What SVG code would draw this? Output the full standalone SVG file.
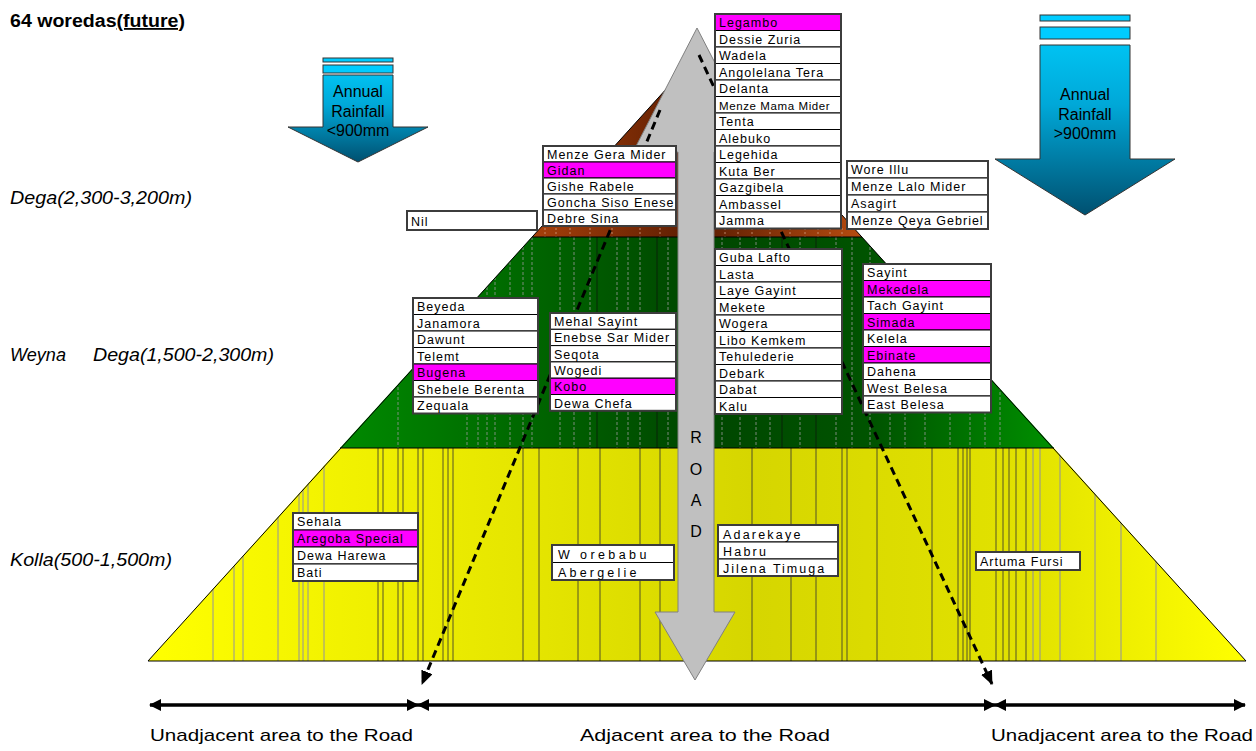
<svg xmlns="http://www.w3.org/2000/svg" width="1256" height="751" viewBox="0 0 1256 751">
  <defs>
    <style>
      .row{fill:#fff;stroke:#000;stroke-width:1}
      .hl{fill:#ff00ff;stroke:#000;stroke-width:1}
      .frame{fill:none;stroke:#3c3c3c;stroke-width:2}
      .t{font-family:"Liberation Sans",Arial,sans-serif;font-size:12.5px;letter-spacing:1px;fill:#000}
      .lvl{font-family:"Liberation Sans",Arial,sans-serif;font-size:18px;font-style:italic;fill:#000}
      .area{font-family:"Liberation Sans",Arial,sans-serif;font-size:17px;fill:#000}
      .rain{font-family:"Liberation Sans",Arial,sans-serif;font-size:16px;fill:#000;text-anchor:middle}
      .road{font-family:"Liberation Sans",Arial,sans-serif;font-size:16px;fill:#000;text-anchor:middle}
      .ly{stroke:#303030;stroke-width:0.8}
      .lp{stroke:#7a78c8;stroke-width:0.8}
      .lg{stroke:#9a9a9a;stroke-width:0.8;stroke-dasharray:3 2}
      .ld{stroke:#0a1a0a;stroke-width:0.8}
      .lb{stroke:#d0a080;stroke-width:0.8;stroke-dasharray:2 2}
      .dash{fill:none;stroke:#000;stroke-width:3;stroke-dasharray:8 5}
      .span{fill:none;stroke:#000;stroke-width:3}
    </style>
    <linearGradient id="gYellow" x1="148" y1="0" x2="1246" y2="0" gradientUnits="userSpaceOnUse">
      <stop offset="0" stop-color="#ffff00"/>
      <stop offset="0.55" stop-color="#d6d600"/>
      <stop offset="0.8" stop-color="#e2e200"/>
      <stop offset="1" stop-color="#ffff00"/>
    </linearGradient>
    <linearGradient id="gGreen" x1="340" y1="0" x2="1054" y2="0" gradientUnits="userSpaceOnUse">
      <stop offset="0" stop-color="#008a00"/>
      <stop offset="0.5" stop-color="#004600"/>
      <stop offset="0.75" stop-color="#005400"/>
      <stop offset="1" stop-color="#009000"/>
    </linearGradient>
    <linearGradient id="gBrown" x1="530" y1="0" x2="864" y2="0" gradientUnits="userSpaceOnUse">
      <stop offset="0" stop-color="#a8400a"/>
      <stop offset="0.5" stop-color="#5a1c02"/>
      <stop offset="1" stop-color="#b84c10"/>
    </linearGradient>
    <linearGradient id="gRainL" x1="0" y1="58" x2="0" y2="162" gradientUnits="userSpaceOnUse">
      <stop offset="0" stop-color="#00d0ff"/>
      <stop offset="0.45" stop-color="#00a8d8"/>
      <stop offset="1" stop-color="#005070"/>
    </linearGradient>
    <linearGradient id="gRainR" x1="0" y1="14" x2="0" y2="215" gradientUnits="userSpaceOnUse">
      <stop offset="0" stop-color="#00d0ff"/>
      <stop offset="0.45" stop-color="#00a8d8"/>
      <stop offset="1" stop-color="#005070"/>
    </linearGradient>
    <clipPath id="cYellow"><polygon points="340,448 1054,448 1246,661 148,661"/></clipPath>
    <clipPath id="cGreen"><polygon points="532,237 862,237 1054,448 340,448"/></clipPath>
    <marker id="head" viewBox="0 0 12 12" refX="11" refY="6" markerWidth="12" markerHeight="12" markerUnits="userSpaceOnUse" orient="auto">
      <path d="M0,0 L12,6 L0,12 Z" fill="#000"/>
    </marker>
    <marker id="headD" viewBox="0 0 14 12" refX="13" refY="6" markerWidth="14" markerHeight="12" markerUnits="userSpaceOnUse" orient="auto">
      <path d="M0,0 L14,6 L0,12 Z" fill="#000"/>
    </marker>
  </defs>

  <rect width="1256" height="751" fill="#fff"/>

  <!-- title -->
  <text x="10" y="27" font-family="Liberation Sans, Arial, sans-serif" font-size="18" font-weight="bold" textLength="175" lengthAdjust="spacingAndGlyphs">64 woredas<tspan text-decoration="underline">(future)</tspan></text>

  <!-- altitude zones -->
  <text class="lvl" x="10" y="204" textLength="182" lengthAdjust="spacingAndGlyphs">Dega(2,300-3,200m)</text>
  <text class="lvl" x="10" y="361" textLength="56" lengthAdjust="spacingAndGlyphs">Weyna</text>
  <text class="lvl" x="93" y="361" textLength="181" lengthAdjust="spacingAndGlyphs">Dega(1,500-2,300m)</text>
  <text class="lvl" x="10" y="566" textLength="162" lengthAdjust="spacingAndGlyphs">Kolla(500-1,500m)</text>

  <!-- pyramid of altitude bands -->
  <g id="pyramid">
    <polygon points="697,55 862,237 532,237" fill="url(#gBrown)"/>
    <polygon points="532,237 862,237 1054,448 340,448" fill="url(#gGreen)"/>
    <polygon points="340,448 1054,448 1246,661 148,661" fill="url(#gYellow)"/>
    <g clip-path="url(#cYellow)">
      <path class="lp" d="M213,448V661M234,448V661M243,448V661M278,448V661M299,448V661M303,448V661M308,448V661M324,448V661"/>
      <path class="ly" d="M378,448V661M383,448V661M398,448V661M403,448V661M418,448V661M423,448V661M443,448V661M448,448V661M453,448V661M523,448V661M539,448V661M578,448V661M600,448V661M640,448V661M660,448V661"/>
      <path class="ly" d="M752,448V661M791,448V661M816,448V661M842,448V661M847,448V661M877,448V661M932,448V661M958,448V661M963,448V661M967,448V661M970,448V661M996,448V661M1003,448V661M1009,448V661M1016,448V661M1026,448V661"/>
      <path class="lp" d="M1033,448V661M1040,448V661M1060,448V661M1095,448V661M1121,448V661M1156,448V661"/>
    </g>
    <g clip-path="url(#cGreen)">
      <path class="lg" d="M398,237V448M467,237V448M478,237V448M487,237V448M495,237V448M510,237V448M523,237V448M532,237V448M560,237V448M574,237V448M590,237V448M617,237V448M628,237V448M640,237V448M668,237V448"/>
      <path class="lg" d="M722,237V448M740,237V448M756,237V448M770,237V448M800,237V448M836,237V448M852,237V448M870,237V448M890,237V448M905,237V448M925,237V448M950,237V448M970,237V448M985,237V448M1000,237V448"/>
      <path class="ld" d="M597,237V448M657,237V448M782,237V448M816,237V448"/>
    </g>
    <path class="lb" d="M545,228V237M556,228V237M570,228V237M590,228V237M612,228V237M640,228V237M660,228V237M725,228V237M738,228V237M752,228V237M770,228V237M790,228V237M805,228V237M818,228V237M830,228V237M842,228V237"/>
    <path d="M532,237H862M340,448H1054" stroke="#000" stroke-width="1"/>
    <polygon points="697,55 1246,661 148,661" fill="none" stroke="#000" stroke-width="1"/>
  </g>

  <!-- road -->
  <g id="road">
    <polygon points="697,28 761,152 714,152 714,612 735,612 695,680 655,612 678,612 678,152 633,152" fill="#c0c0c0" stroke="#808080" stroke-width="1"/>
    <text class="road" x="696" y="443">R</text>
    <text class="road" x="696" y="475">O</text>
    <text class="road" x="696" y="506">A</text>
    <text class="road" x="696" y="537">D</text>
  </g>

  <!-- connectors -->
  <g id="connectors">
    <path class="dash" d="M660,110 L422,684" marker-end="url(#headD)"/>
    <path class="dash" d="M699,55 L992,684" marker-end="url(#headD)"/>
    <path class="span" d="M418,705 H150" marker-end="url(#head)"/>
    <path class="span" d="M150,705 H418" marker-end="url(#head)"/>
    <path class="span" d="M995,705 H418" marker-end="url(#head)"/>
    <path class="span" d="M418,705 H995" marker-end="url(#head)"/>
    <path class="span" d="M1245,705 H995" marker-end="url(#head)"/>
    <path class="span" d="M995,705 H1245" marker-end="url(#head)"/>
  </g>

  <!-- rainfall arrows -->
  <g id="rain-low">
    <rect x="323" y="58" width="70" height="4" fill="#00ccff" stroke="#333" stroke-width="1"/>
    <rect x="323" y="65" width="70" height="8" fill="#00ccff" stroke="#333" stroke-width="1"/>
    <polygon points="323,75 393,75 393,127 428,127 358,162 288,127 323,127" fill="url(#gRainL)" stroke="#333" stroke-width="1"/>
    <text class="rain" x="358" y="97">Annual</text>
    <text class="rain" x="358" y="117">Rainfall</text>
    <text class="rain" x="358" y="136">&lt;900mm</text>
  </g>
  <g id="rain-high">
    <rect x="1040" y="15" width="90" height="6" fill="#00ccff" stroke="#333" stroke-width="1"/>
    <rect x="1040" y="27" width="90" height="12" fill="#00ccff" stroke="#333" stroke-width="1"/>
    <polygon points="1040,45 1130,45 1130,159 1175,159 1085,215 995,159 1040,159" fill="url(#gRainR)" stroke="#333" stroke-width="1"/>
    <text class="rain" x="1085" y="100">Annual</text>
    <text class="rain" x="1085" y="120">Rainfall</text>
    <text class="rain" x="1085" y="139">&gt;900mm</text>
  </g>

  <!-- woreda lists -->
  <g id="list-nil" transform="translate(407,211)">
    <rect class="row" x="0" y="0" width="130" height="19"/>
    <rect class="frame" x="0" y="0" width="130" height="19"/>
    <text class="t" x="4" y="14.5">Nil</text>
  </g>

  <g id="list-menze-gera" transform="translate(543,146)">
    <rect class="row" x="0" y="0" width="133" height="16"/>
    <rect class="hl" x="0" y="16" width="133" height="16"/>
    <rect class="row" x="0" y="32" width="133" height="16"/>
    <rect class="row" x="0" y="48" width="133" height="16"/>
    <rect class="row" x="0" y="64" width="133" height="16"/>
    <rect class="frame" x="0" y="0" width="133" height="80"/>
    <text class="t" x="4" y="12.5">Menze Gera Mider</text>
    <text class="t" x="4" y="28.5">Gidan</text>
    <text class="t" x="4" y="44.5">Gishe Rabele</text>
    <text class="t" x="4" y="60.5">Goncha Siso Enese</text>
    <text class="t" x="4" y="76.5">Debre Sina</text>
  </g>

  <g id="list-legambo" transform="translate(715,14)">
    <rect class="hl" x="0" y="0" width="126" height="16.5"/>
    <rect class="row" x="0" y="16.5" width="126" height="16.5"/>
    <rect class="row" x="0" y="33" width="126" height="16.5"/>
    <rect class="row" x="0" y="49.5" width="126" height="16.5"/>
    <rect class="row" x="0" y="66" width="126" height="16.5"/>
    <rect class="row" x="0" y="82.5" width="126" height="16.5"/>
    <rect class="row" x="0" y="99" width="126" height="16.5"/>
    <rect class="row" x="0" y="115.5" width="126" height="16.5"/>
    <rect class="row" x="0" y="132" width="126" height="16.5"/>
    <rect class="row" x="0" y="148.5" width="126" height="16.5"/>
    <rect class="row" x="0" y="165" width="126" height="16.5"/>
    <rect class="row" x="0" y="181.5" width="126" height="16.5"/>
    <rect class="row" x="0" y="198" width="126" height="16.5"/>
    <rect class="frame" x="0" y="0" width="126" height="214.5"/>
    <text class="t" x="4" y="13">Legambo</text>
    <text class="t" x="4" y="29.5">Dessie Zuria</text>
    <text class="t" x="4" y="46">Wadela</text>
    <text class="t" x="4" y="62.5">Angolelana Tera</text>
    <text class="t" x="4" y="79">Delanta</text>
    <text class="t" x="4" y="95.5" style="font-size:11.5px;letter-spacing:0.6px">Menze Mama Mider</text>
    <text class="t" x="4" y="112">Tenta</text>
    <text class="t" x="4" y="128.5">Alebuko</text>
    <text class="t" x="4" y="145">Legehida</text>
    <text class="t" x="4" y="161.5">Kuta Ber</text>
    <text class="t" x="4" y="178">Gazgibela</text>
    <text class="t" x="4" y="194.5">Ambassel</text>
    <text class="t" x="4" y="211">Jamma</text>
  </g>

  <g id="list-wore-illu" transform="translate(847,161)">
    <rect class="row" x="0" y="0" width="141" height="17"/>
    <rect class="row" x="0" y="17" width="141" height="17"/>
    <rect class="row" x="0" y="34" width="141" height="17"/>
    <rect class="row" x="0" y="51" width="141" height="17"/>
    <rect class="frame" x="0" y="0" width="141" height="68"/>
    <text class="t" x="4" y="13">Wore Illu</text>
    <text class="t" x="4" y="30">Menze Lalo Mider</text>
    <text class="t" x="4" y="47">Asagirt</text>
    <text class="t" x="4" y="64">Menze Qeya Gebriel</text>
  </g>

  <g id="list-beyeda" transform="translate(413,298)">
    <rect class="row" x="0" y="0" width="125" height="16.5"/>
    <rect class="row" x="0" y="16.5" width="125" height="16.5"/>
    <rect class="row" x="0" y="33" width="125" height="16.5"/>
    <rect class="row" x="0" y="49.5" width="125" height="16.5"/>
    <rect class="hl" x="0" y="66" width="125" height="16.5"/>
    <rect class="row" x="0" y="82.5" width="125" height="16.5"/>
    <rect class="row" x="0" y="99" width="125" height="16.5"/>
    <rect class="frame" x="0" y="0" width="125" height="115.5"/>
    <text class="t" x="4" y="13">Beyeda</text>
    <text class="t" x="4" y="29.5">Janamora</text>
    <text class="t" x="4" y="46">Dawunt</text>
    <text class="t" x="4" y="62.5">Telemt</text>
    <text class="t" x="4" y="79">Bugena</text>
    <text class="t" x="4" y="95.5">Shebele Berenta</text>
    <text class="t" x="4" y="112">Zequala</text>
  </g>

  <g id="list-mehal-sayint" transform="translate(550,313)">
    <rect class="row" x="0" y="0" width="126" height="16.3"/>
    <rect class="row" x="0" y="16.3" width="126" height="16.3"/>
    <rect class="row" x="0" y="32.6" width="126" height="16.3"/>
    <rect class="row" x="0" y="48.9" width="126" height="16.3"/>
    <rect class="hl" x="0" y="65.2" width="126" height="16.3"/>
    <rect class="row" x="0" y="81.5" width="126" height="16.3"/>
    <rect class="frame" x="0" y="0" width="126" height="97.8"/>
    <text class="t" x="4" y="13">Mehal Sayint</text>
    <text class="t" x="4" y="29.3">Enebse Sar Mider</text>
    <text class="t" x="4" y="45.6">Seqota</text>
    <text class="t" x="4" y="61.9">Wogedi</text>
    <text class="t" x="4" y="78.2">Kobo</text>
    <text class="t" x="4" y="94.5">Dewa Chefa</text>
  </g>

  <g id="list-guba-lafto" transform="translate(715,249)">
    <rect class="row" x="0" y="0" width="127" height="16.5"/>
    <rect class="row" x="0" y="16.5" width="127" height="16.5"/>
    <rect class="row" x="0" y="33" width="127" height="16.5"/>
    <rect class="row" x="0" y="49.5" width="127" height="16.5"/>
    <rect class="row" x="0" y="66" width="127" height="16.5"/>
    <rect class="row" x="0" y="82.5" width="127" height="16.5"/>
    <rect class="row" x="0" y="99" width="127" height="16.5"/>
    <rect class="row" x="0" y="115.5" width="127" height="16.5"/>
    <rect class="row" x="0" y="132" width="127" height="16.5"/>
    <rect class="row" x="0" y="148.5" width="127" height="16.5"/>
    <rect class="frame" x="0" y="0" width="127" height="165"/>
    <text class="t" x="4" y="13">Guba Lafto</text>
    <text class="t" x="4" y="29.5">Lasta</text>
    <text class="t" x="4" y="46">Laye Gayint</text>
    <text class="t" x="4" y="62.5">Mekete</text>
    <text class="t" x="4" y="79">Wogera</text>
    <text class="t" x="4" y="95.5">Libo Kemkem</text>
    <text class="t" x="4" y="112">Tehulederie</text>
    <text class="t" x="4" y="128.5">Debark</text>
    <text class="t" x="4" y="145">Dabat</text>
    <text class="t" x="4" y="161.5">Kalu</text>
  </g>

  <g id="list-sayint" transform="translate(863,264)">
    <rect class="row" x="0" y="0" width="128" height="16.5"/>
    <rect class="hl" x="0" y="16.5" width="128" height="16.5"/>
    <rect class="row" x="0" y="33" width="128" height="16.5"/>
    <rect class="hl" x="0" y="49.5" width="128" height="16.5"/>
    <rect class="row" x="0" y="66" width="128" height="16.5"/>
    <rect class="hl" x="0" y="82.5" width="128" height="16.5"/>
    <rect class="row" x="0" y="99" width="128" height="16.5"/>
    <rect class="row" x="0" y="115.5" width="128" height="16.5"/>
    <rect class="row" x="0" y="132" width="128" height="16.5"/>
    <rect class="frame" x="0" y="0" width="128" height="148.5"/>
    <text class="t" x="4" y="13">Sayint</text>
    <text class="t" x="4" y="29.5">Mekedela</text>
    <text class="t" x="4" y="46">Tach Gayint</text>
    <text class="t" x="4" y="62.5">Simada</text>
    <text class="t" x="4" y="79">Kelela</text>
    <text class="t" x="4" y="95.5">Ebinate</text>
    <text class="t" x="4" y="112">Dahena</text>
    <text class="t" x="4" y="128.5">West Belesa</text>
    <text class="t" x="4" y="145">East Belesa</text>
  </g>

  <g id="list-sehala" transform="translate(293,513)">
    <rect class="row" x="0" y="0" width="125" height="17"/>
    <rect class="hl" x="0" y="17" width="125" height="17"/>
    <rect class="row" x="0" y="34" width="125" height="17"/>
    <rect class="row" x="0" y="51" width="125" height="17"/>
    <rect class="frame" x="0" y="0" width="125" height="68"/>
    <text class="t" x="4" y="13">Sehala</text>
    <text class="t" x="4" y="30">Aregoba Special</text>
    <text class="t" x="4" y="47">Dewa Harewa</text>
    <text class="t" x="4" y="64">Bati</text>
  </g>

  <g id="list-worebabu" transform="translate(552,545)">
    <rect class="row" x="0" y="0" width="122" height="17.5"/>
    <rect class="row" x="0" y="17.5" width="122" height="17.5"/>
    <rect class="frame" x="0" y="0" width="122" height="35"/>
    <text class="t" x="6" y="14" style="letter-spacing:3.4px">W orebabu</text>
    <text class="t" x="6" y="31.5" style="letter-spacing:3.2px">Abergelie</text>
  </g>

  <g id="list-adarekaye" transform="translate(718,525)">
    <rect class="row" x="0" y="0" width="120" height="17"/>
    <rect class="row" x="0" y="17" width="120" height="17"/>
    <rect class="row" x="0" y="34" width="120" height="17"/>
    <rect class="frame" x="0" y="0" width="120" height="51"/>
    <text class="t" x="5" y="13.5" style="letter-spacing:2.2px">Adarekaye</text>
    <text class="t" x="5" y="30.5" style="letter-spacing:2.2px">Habru</text>
    <text class="t" x="5" y="47.5" style="letter-spacing:2px">Jilena Timuga</text>
  </g>

  <g id="list-artuma" transform="translate(976,552)">
    <rect class="row" x="0" y="0" width="104" height="18"/>
    <rect class="frame" x="0" y="0" width="104" height="18"/>
    <text class="t" x="4" y="14">Artuma Fursi</text>
  </g>

  <!-- area captions -->
  <text class="area" x="150" y="741" textLength="263" lengthAdjust="spacingAndGlyphs">Unadjacent area to the Road</text>
  <text class="area" x="580" y="741" textLength="250" lengthAdjust="spacingAndGlyphs">Adjacent area to the Road</text>
  <text class="area" x="991" y="741" textLength="262" lengthAdjust="spacingAndGlyphs">Unadjacent area to the Road</text>
</svg>
